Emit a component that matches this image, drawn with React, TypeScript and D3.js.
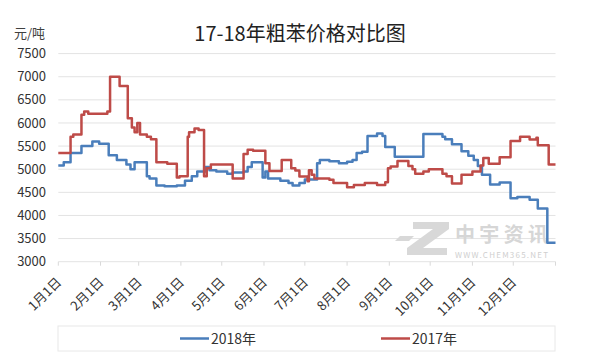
import React from "react";
import * as d3 from "d3";

// day-of-year (0 = Jan 1) and price in 元/吨
const days2018 = [0, 4, 9, 17, 25, 30, 37, 43, 50, 53, 56, 65, 67, 72, 78, 87, 93, 98, 102, 108, 111, 116, 124, 128, 136, 139, 142, 150, 152, 154, 163, 169, 172, 177, 181, 190, 192, 199, 206, 212, 216, 219, 223, 227, 234, 238, 240, 247, 268, 282, 284, 289, 296, 301, 305, 308, 311, 317, 324, 332, 337, 346, 352, 359, 365];
const values2018 = [5080, 5150, 5350, 5500, 5600, 5550, 5300, 5200, 5100, 5000, 5150, 4850, 4800, 4650, 4630, 4650, 4750, 4850, 4950, 5050, 4980, 4950, 4900, 4930, 4950, 5050, 5150, 4820, 4950, 4800, 4750, 4700, 4650, 4700, 4780, 5130, 5200, 5170, 5130, 5160, 5200, 5350, 5380, 5720, 5770, 5720, 5480, 5270, 5760, 5700, 5650, 5540, 5390, 5290, 5200, 5070, 4880, 4670, 4710, 4370, 4400, 4340, 4150, 3410, 3410];

const days2017 = [0, 9, 11, 17, 19, 22, 36, 38, 45, 51, 54, 56, 58, 60, 65, 68, 72, 80, 87, 89, 95, 96, 100, 103, 107, 109, 112, 128, 136, 139, 143, 152, 155, 164, 171, 174, 177, 183, 184, 186, 188, 199, 202, 212, 217, 225, 234, 240, 242, 244, 249, 257, 260, 262, 268, 272, 282, 285, 289, 296, 304, 310, 312, 316, 324, 332, 339, 346, 351, 352, 360, 365];
const values2017 = [5350, 5700, 5750, 6180, 6250, 6200, 6250, 7000, 6800, 6100, 5900, 5800, 6000, 5750, 5700, 5650, 5150, 5120, 4820, 4850, 5700, 5800, 5880, 5850, 4850, 5020, 5100, 4800, 5330, 5420, 5400, 5130, 4960, 5200, 5020, 4970, 4840, 4740, 4980, 4880, 4800, 4770, 4700, 4610, 4660, 4700, 4660, 4720, 5020, 5060, 5180, 5070, 5000, 4900, 4950, 5000, 4900, 4850, 4690, 4880, 4950, 5080, 5240, 5120, 5260, 5610, 5700, 5640, 5680, 5520, 5100, 5100];

const monthStarts = [0, 31, 59, 90, 120, 151, 181, 212, 243, 273, 304, 334, 365];
const monthLabels = ["1月1日", "2月1日", "3月1日", "4月1日", "5月1日", "6月1日", "7月1日", "8月1日", "9月1日", "10月1日", "11月1日", "12月1日"];
const yTicks = [3000, 3500, 4000, 4500, 5000, 5500, 6000, 6500, 7000, 7500];

const seriesNames = ["2018年", "2017年"];
const colors = ["#4A7EBB", "#BE4B48"];

const FONT = "'Noto Sans CJK SC', 'Noto Sans', sans-serif";

export default function App() {
  const W = 600, H = 360;
  const x = d3.scaleLinear().domain([0, 365]).range([58.3, 555.5]);
  const y = d3.scaleLinear().domain([3000, 7500]).range([261.7, 53.6]);

  const line = d3
    .line<[number, number]>()
    .x((d) => x(d[0]))
    .y((d) => y(d[1]))
    .curve(d3.curveStepAfter);

  const s2018: [number, number][] = days2018.map((d, i) => [d, values2018[i]]);
  const s2017: [number, number][] = days2017.map((d, i) => [d, values2017[i]]);

  return (
    <svg width={W} height={H} style={{ position: "absolute", left: 0, top: 0, background: "#fff" }} fontFamily={FONT}>
      <rect x={0} y={0} width={W} height={H} fill="#fff" />
      <text x={300} y={41} textAnchor="middle" fontSize={20} fill="#222">17-18年粗苯价格对比图</text>
      <text x={14} y={38} fontSize={13} fill="#404040">元/吨</text>

      {yTicks.map((t) => (
        <g key={t}>
          <line x1={x(0)} x2={x(365)} y1={y(t)} y2={y(t)} stroke="#E3E3E3" strokeWidth={1} />
          <text x={46} y={y(t)} dy="0.35em" textAnchor="end" fontSize={13} fill="#333">{t}</text>
        </g>
      ))}

      {monthStarts.map((m) => (
        <line key={m} x1={x(m)} x2={x(m)} y1={y(3000)} y2={y(3000) + 4} stroke="#D9D9D9" />
      ))}
      {monthLabels.map((lab, i) => (
        <text key={lab} transform={`translate(${x(monthStarts[i]) + 4},${283}) rotate(-45)`} textAnchor="end" fontSize={13} fill="#333">{lab}</text>
      ))}

      {/* watermark */}
      <g fill="#D8D8D8">
        <polygon points="413,222 449,222 449,229 423,248 447,248 447,255 407,255 407,248 433,229 413,229" />
        <polygon points="400,236 414,236 409,241 395,241" />
        <text x={455} y={242} fontSize={20} fontWeight="bold" fill="#D6D6D6" textLength={93}>中宇资讯</text>
        <text x={455} y={258} fontSize={8} fill="#CFCFCF" textLength={93}>WWW.CHEM365.NET</text>
      </g>

      <path d={line(s2018) || ""} fill="none" stroke={colors[0]} strokeWidth={2.5} strokeLinejoin="round" />
      <path d={line(s2017) || ""} fill="none" stroke={colors[1]} strokeWidth={2.5} strokeLinejoin="round" />

      <rect x={58} y={326} width={497} height={25} fill="none" stroke="#E8E8E8" />
      {[0, 1].map((i) => (
        <g key={i} transform={`translate(${180 + i * 201},338.5)`}>
          <line x1={0} x2={29} y1={0} y2={0} stroke={colors[i]} strokeWidth={2.5} />
          <text x={31} y={0} dy="0.36em" fontSize={14} fill="#333">{seriesNames[i]}</text>
        </g>
      ))}
    </svg>
  );
}
